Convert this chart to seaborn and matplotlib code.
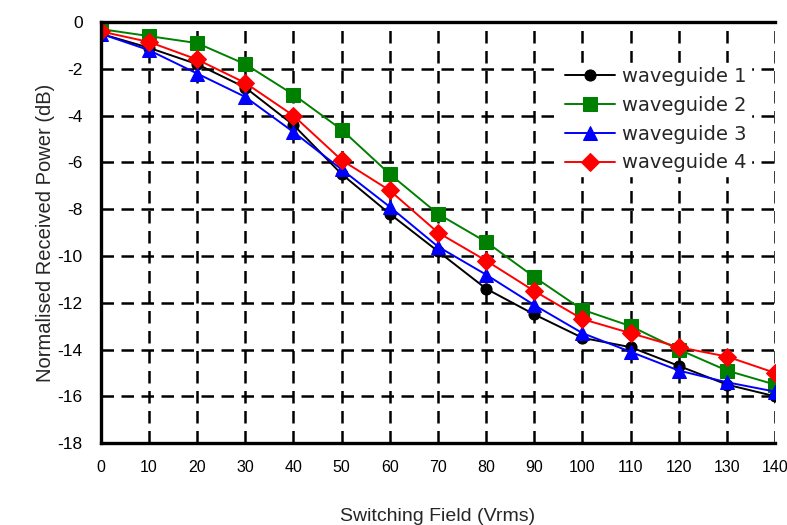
import matplotlib
matplotlib.use("Agg")
import matplotlib.pyplot as plt
import seaborn as sns
import pandas as pd

field = [0, 10, 20, 30, 40, 50, 60, 70, 80, 90, 100, 110, 120, 130, 140]
wg1 = [-0.5, -1.1, -1.8, -2.8, -4.4, -6.5, -8.2, -9.8, -11.4, -12.5, -13.5, -13.9, -14.7, -15.5, -16.0]
wg2 = [-0.3, -0.6, -0.9, -1.8, -3.1, -4.6, -6.5, -8.2, -9.4, -10.9, -12.3, -13.0, -14.0, -14.9, -15.5]
wg3 = [-0.5, -1.2, -2.2, -3.2, -4.7, -6.3, -7.9, -9.6, -10.8, -12.1, -13.3, -14.1, -14.9, -15.4, -15.8]
wg4 = [-0.4, -0.85, -1.6, -2.6, -4.0, -5.9, -7.2, -9.0, -10.2, -11.5, -12.7, -13.3, -13.9, -14.3, -15.0]
names = ["waveguide 1", "waveguide 2", "waveguide 3", "waveguide 4"]

rows = []
for n, vals in zip(names, [wg1, wg2, wg3, wg4]):
    for x, y in zip(field, vals):
        rows.append({"field": x, "power": y, "series": n})
df = pd.DataFrame(rows)

sns.set_style("white")
plt.rcParams['font.family'] = ['Liberation Sans', 'DejaVu Sans']
plt.rcParams['axes.unicode_minus'] = False

fig = plt.figure(figsize=(7.87, 5.25), dpi=100)
ax = fig.add_axes([0.128, 0.156, 0.857, 0.802])

palette = {"waveguide 1": "#000000", "waveguide 2": "#008000",
           "waveguide 3": "#0000ff", "waveguide 4": "#ff0000"}
markers = {"waveguide 1": "o", "waveguide 2": "s", "waveguide 3": "^", "waveguide 4": "D"}
sizes = {"waveguide 1": 8, "waveguide 2": 10, "waveguide 3": 10, "waveguide 4": 9}

for n in names:
    sub = df[df["series"] == n]
    sns.lineplot(data=sub, x="field", y="power", ax=ax, color=palette[n],
                 marker=markers[n], markersize=sizes[n], markeredgecolor=palette[n],
                 linewidth=1.4, label=n)

ax.set_xlim(0, 140)
ax.set_ylim(-18, 0)
ax.set_xticks(field)
ax.set_yticks(range(-18, 1, 2))
ax.grid(True, color="black", linestyle=(0, (5, 3)), linewidth=1.8)
ax.set_axisbelow(True)
for s in ["left", "bottom", "top"]:
    ax.spines[s].set_visible(True)
    ax.spines[s].set_color("black")
    ax.spines[s].set_linewidth(2.4)
ax.spines["right"].set_visible(False)
ax.tick_params(axis="both", direction="inout", length=8, width=1.5, colors="black",
               labelsize=12.5, pad=8)
ax.tick_params(axis="x", labelsize=11.5)
ax.tick_params(axis="y", pad=9)
ax.set_xlabel("Switching Field (Vrms)", fontsize=14, labelpad=24)
ax.set_ylabel("Normalised Received Power (dB)", fontsize=14.5, labelpad=2)

leg = ax.legend(loc="upper left", bbox_to_anchor=(0.668, 0.925), frameon=True,
                prop={"family": ["DejaVu Sans"], "size": 14},
                handlelength=2.6, handletextpad=0.35,
                labelspacing=0.5, borderpad=0.2, fancybox=False)
leg.get_frame().set_facecolor("white")
leg.get_frame().set_edgecolor("white")
leg.get_frame().set_alpha(1)

fig.savefig("out.png", dpi=100)
